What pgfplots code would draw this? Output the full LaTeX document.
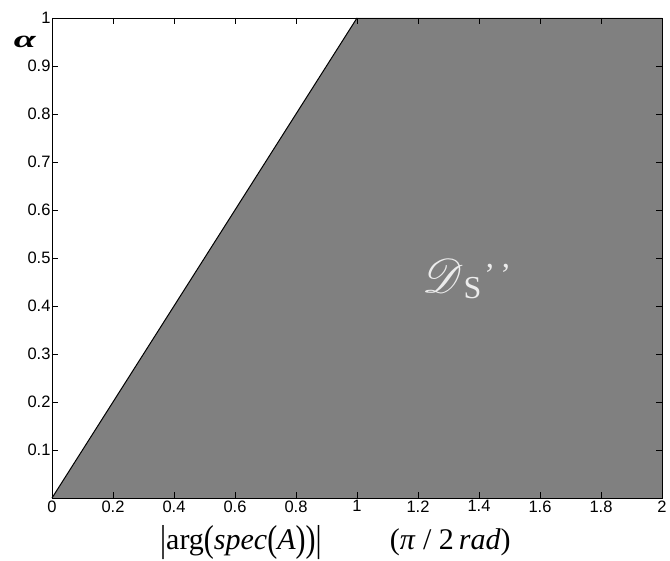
\documentclass[border=0pt]{standalone}
\usepackage{pgfplots}
\pgfplotsset{compat=1.18}
\usepackage{fontspec}
\usepackage{amsmath}
\usepackage{mathrsfs}
\usepackage{graphicx}
\setmainfont{Liberation Serif}
\newfontfamily\arial{Liberation Sans}
\definecolor{regiongray}{RGB}{128,128,128}
\newcommand\tallp[1]{\raisebox{-0.08em}{\scalebox{1}[1.25]{#1}}}

\begin{document}
\begin{tikzpicture}
\begin{axis}[
  width=610pt, height=480pt,
  scale only axis,
  xmin=0, xmax=2, ymin=0, ymax=1,
  xtick={0,0.2,0.4,0.6,0.8,1,1.2,1.4,1.6,1.8,2},
  ytick={0.1,0.2,0.3,0.4,0.5,0.6,0.7,0.8,0.9,1},
  tick align=inside,
  tick pos=both,
  major tick length=6pt,
  tick style={black, line width=0.8pt},
  axis line style={black, line width=0.9pt},
  ticklabel style={font=\arial\fontsize{16.5}{18}\selectfont},
  /pgf/number format/assume math mode=true,
  xticklabel style={yshift=1pt},
  yticklabel style={xshift=2pt},
  axis on top,
  clip=false,
]
\addplot[fill=regiongray, draw=none] coordinates {(0,0) (1,1) (2,1) (2,0)} -- cycle;
\addplot[black, line width=1pt] coordinates {(0,0) (1,1)};

% region label
\node[text=white!85!regiongray, anchor=base west, inner sep=0pt, font=\fontsize{20}{24}\selectfont]
  at (axis cs:1.213,0.429)
  {\scalebox{2.3}{$\mathscr{D}$}\raisebox{-6pt}{\fontsize{32}{36}\selectfont S}\hspace{3pt}\raisebox{7pt}{\fontsize{32}{36}\selectfont ’\,’}};

% y label
\node[anchor=center] at ([xshift=-27pt,yshift=-24pt]rel axis cs:0,1)
  {\scalebox{1.8}[1.1]{\fontsize{22}{24}\selectfont\textbf{\textit{α}}}};

% x label
\node[anchor=base, inner sep=0pt, font=\fontsize{30}{33}\selectfont] at ([yshift=-51pt]axis cs:0.6195,0)
  {\tallp{|}arg\tallp{(}\textit{spec}\tallp{(}\textit{A}\tallp{)}\tallp{)}\tallp{|}};
\node[anchor=base, inner sep=0pt, font=\fontsize{30}{33}\selectfont] at ([yshift=-51pt]axis cs:1.306,0)
  {(\textit{π} / 2\,\textit{rad})};

\coordinate (sw) at (rel axis cs:0,0);
\coordinate (ne) at (rel axis cs:1,1);
\end{axis}
\pgfresetboundingbox
\useasboundingbox ([shift={(-52pt,-62pt)}]sw) rectangle ([shift={(8pt,18pt)}]ne);
\end{tikzpicture}
\end{document}
